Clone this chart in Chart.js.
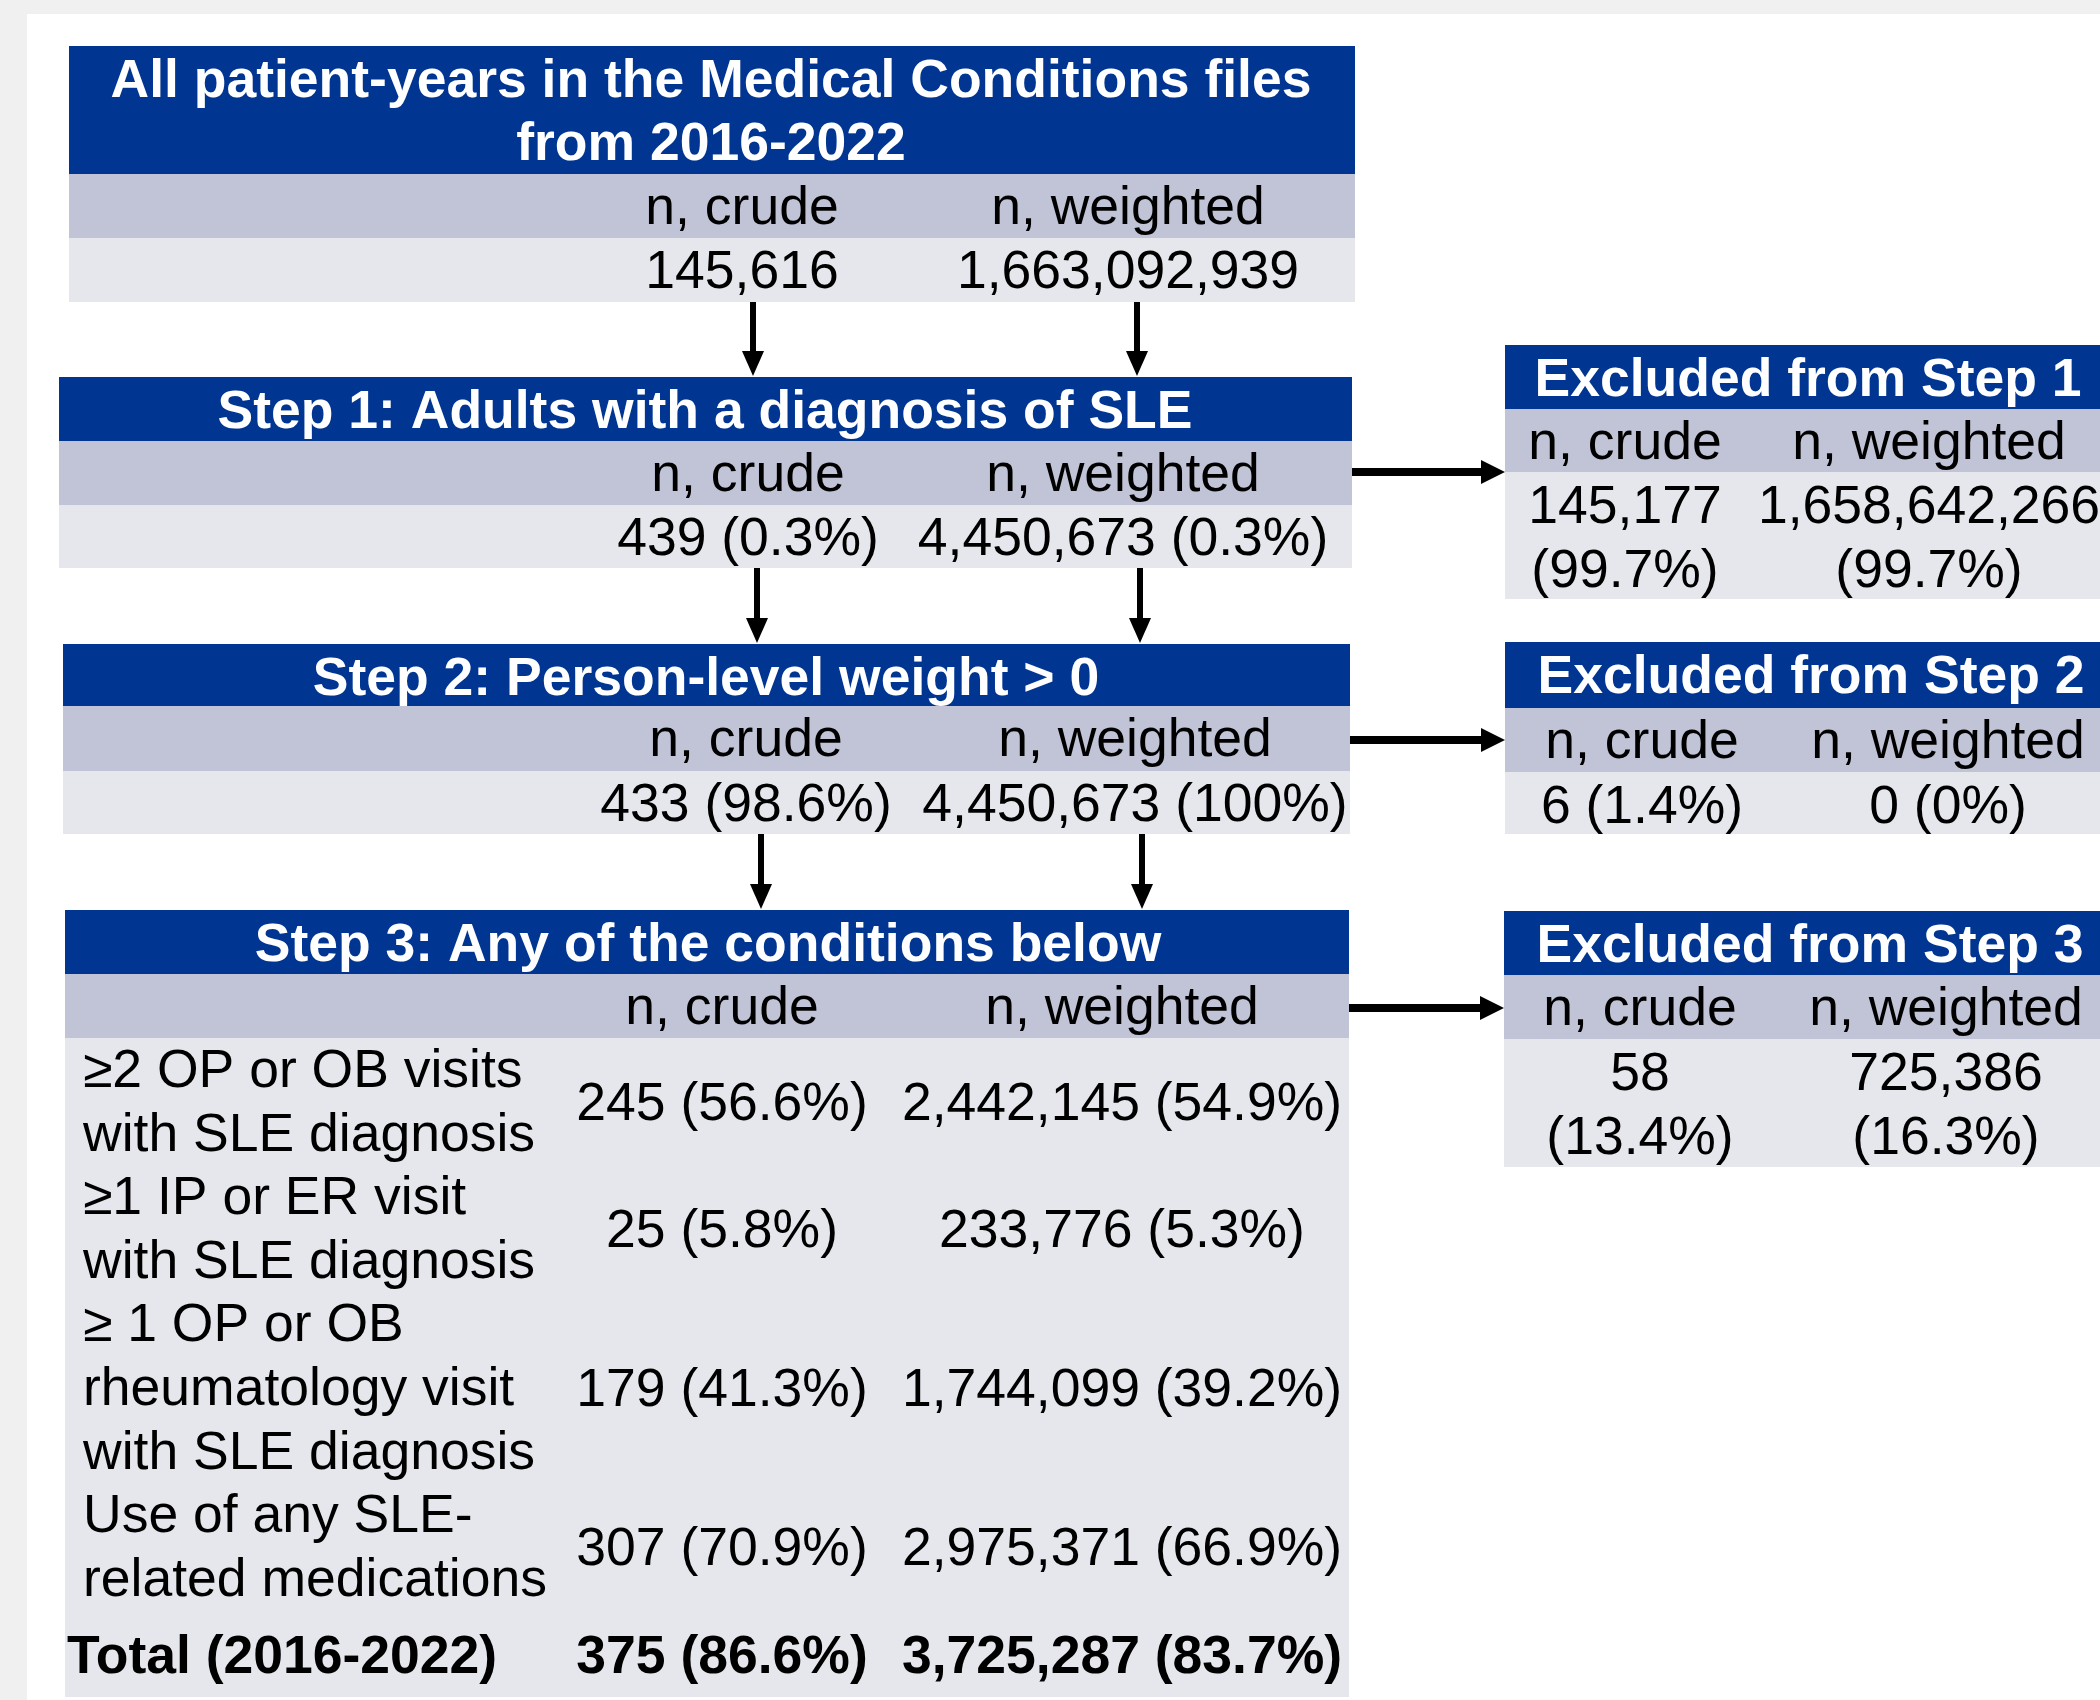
<!DOCTYPE html>
<html>
<head>
<meta charset="utf-8">
<title>SLE cohort flowchart</title>
<script src="https://cdn.jsdelivr.net/npm/chart.js@4.4.1/dist/chart.umd.min.js"></script>
<style>
  html, body { margin: 0; padding: 0; background: #f0f0f0; }
  #wrap { width: 2100px; height: 1700px; }
</style>
</head>
<body>
<div id="wrap"><canvas id="flow" width="2100" height="1700"></canvas></div>
<script>
// ---- data ----
const stepTitles = [
  ['All patient-years in the Medical Conditions files', 'from 2016-2022'],
  ['Step 1: Adults with a diagnosis of SLE'],
  ['Step 2: Person-level weight > 0'],
  ['Step 3: Any of the conditions below']
];
const colHeaders = ['n, crude', 'n, weighted'];
const stepCrude = ['145,616', '439 (0.3%)', '433 (98.6%)'];
const stepWeighted = ['1,663,092,939', '4,450,673 (0.3%)', '4,450,673 (100%)'];

const excludedTitles = ['Excluded from Step 1', 'Excluded from Step 2', 'Excluded from Step 3'];
const excludedCrude = [['145,177', '(99.7%)'], ['6 (1.4%)'], ['58', '(13.4%)']];
const excludedWeighted = [['1,658,642,266', '(99.7%)'], ['0 (0%)'], ['725,386', '(16.3%)']];

const conditionLabels = [
  ['≥2 OP or OB visits', 'with SLE diagnosis'],
  ['≥1 IP or ER visit', 'with SLE diagnosis'],
  ['≥ 1 OP or OB', 'rheumatology visit', 'with SLE diagnosis'],
  ['Use of any SLE-', 'related medications']
];
const conditionCrude = ['245 (56.6%)', '25 (5.8%)', '179 (41.3%)', '307 (70.9%)'];
const conditionWeighted = ['2,442,145 (54.9%)', '233,776 (5.3%)', '1,744,099 (39.2%)', '2,975,371 (66.9%)'];
const totalRow = ['Total (2016-2022)', '375 (86.6%)', '3,725,287 (83.7%)'];

// ---- layout (in scale units, 1 unit = 1px) ----
const BLUE = '#003592', HEAD = '#c1c4d6', LIGHT = '#e6e7ed';
const FONT = '"Liberation Sans", Arial, Helvetica, sans-serif';
const FS = 53.5;

// main boxes: left, right, blue top, header top, row top, row bottom, title x, col centers
const stepBoxes = [
  { l: 69, r: 1355, top: 46, hdr: 174, row: 238, bot: 302, tx: 711, cols: [742, 1128] },
  { l: 59, r: 1352, top: 377, hdr: 441, row: 505, bot: 568, tx: 705, cols: [748, 1123] },
  { l: 63, r: 1350, top: 644, hdr: 706, row: 771, bot: 834, tx: 706, cols: [746, 1135] },
  { l: 65, r: 1349, top: 910, hdr: 974, row: 1038, bot: 1697, tx: 708, cols: [722, 1122] }
];
const exclBoxes = [
  { l: 1505, r: 2110, top: 345, hdr: 409, row: 472, bot: 599, tx: 1808, cols: [1625, 1929], ay: 472 },
  { l: 1505, r: 2110, top: 642, hdr: 708, row: 772, bot: 834, tx: 1811, cols: [1642, 1948], ay: 740 },
  { l: 1504, r: 2110, top: 911, hdr: 975, row: 1039, bot: 1167, tx: 1810, cols: [1640, 1946], ay: 1008 }
];
const downArrows = [[753, 1137], [757, 1140], [761, 1142]];

const flowPlugin = {
  id: 'flow',
  beforeDraw(chart) {
    const ctx = chart.ctx;
    const sx = chart.scales.x, sy = chart.scales.y;
    const X = v => sx.getPixelForValue(v);
    const Y = v => sy.getPixelForValue(v);

    function rect(l, t, r, b, color) {
      ctx.fillStyle = color;
      ctx.fillRect(X(l), Y(t), X(r) - X(l), Y(b) - Y(t));
    }
    function text(str, x, y, align, bold, color) {
      ctx.font = (bold ? 'bold ' : '') + FS + 'px ' + FONT;
      ctx.fillStyle = color || '#000';
      ctx.textAlign = align;
      ctx.textBaseline = 'alphabetic';
      ctx.fillText(str, X(x), Y(y));
    }
    function box(b, title) {
      rect(b.l, b.top, b.r, b.hdr, BLUE);
      rect(b.l, b.hdr, b.r, b.row, HEAD);
      rect(b.l, b.row, b.r, b.bot, LIGHT);
      title.forEach((t, i) => text(t, b.tx, b.top + 51 + i * 63, 'center', true, '#fff'));
      text(colHeaders[0], b.cols[0], b.hdr + 50, 'center');
      text(colHeaders[1], b.cols[1], b.hdr + 50, 'center');
    }
    function arrow(x1, y1, x2, y2, w, head, half) {
      ctx.strokeStyle = '#000';
      ctx.fillStyle = '#000';
      ctx.lineWidth = w;
      const horiz = y1 === y2;
      ctx.beginPath();
      if (horiz) {
        ctx.moveTo(X(x1), Y(y1));
        ctx.lineTo(X(x2 - head + 1), Y(y2));
      } else {
        ctx.moveTo(X(x1), Y(y1));
        ctx.lineTo(X(x2), Y(y2 - head + 1));
      }
      ctx.stroke();
      ctx.beginPath();
      if (horiz) {
        ctx.moveTo(X(x2), Y(y2));
        ctx.lineTo(X(x2 - head), Y(y2 - half));
        ctx.lineTo(X(x2 - head), Y(y2 + half));
      } else {
        ctx.moveTo(X(x2), Y(y2));
        ctx.lineTo(X(x2 - half), Y(y2 - head));
        ctx.lineTo(X(x2 + half), Y(y2 - head));
      }
      ctx.closePath();
      ctx.fill();
    }

    // page background
    ctx.save();
    rect(0, 0, 2100, 1700, '#f0f0f0');
    rect(27, 14, 2100, 1700, '#ffffff');

    // main steps
    stepBoxes.forEach((b, i) => {
      box(b, stepTitles[i]);
      if (i < 3) {
        text(stepCrude[i], b.cols[0], b.row + 50, 'center');
        text(stepWeighted[i], b.cols[1], b.row + 50, 'center');
      }
    });

    // step 3 condition rows
    const b3 = stepBoxes[3];
    let line = 0;
    conditionLabels.forEach((lines, i) => {
      const first = 1087 + line * 63.6;
      lines.forEach((t, j) => text(t, 83, first + j * 63.6, 'left'));
      const mid = first + (lines.length - 1) * 63.6 / 2 + 1;
      text(conditionCrude[i], b3.cols[0], mid, 'center');
      text(conditionWeighted[i], b3.cols[1], mid, 'center');
      line += lines.length;
    });
    text(totalRow[0], 67, 1673, 'left', true);
    text(totalRow[1], b3.cols[0], 1673, 'center', true);
    text(totalRow[2], b3.cols[1], 1673, 'center', true);

    // excluded boxes
    exclBoxes.forEach((b, i) => {
      box(b, [excludedTitles[i]]);
      excludedCrude[i].forEach((t, j) => text(t, b.cols[0], b.row + 51 + j * 64, 'center'));
      excludedWeighted[i].forEach((t, j) => text(t, b.cols[1], b.row + 51 + j * 64, 'center'));
      arrow(stepBoxes[i + 1].r, b.ay, b.l, b.ay, 8, 24, 12);
    });

    // vertical arrows between steps
    downArrows.forEach((xs, i) => {
      xs.forEach(x => arrow(x, stepBoxes[i].bot, x, stepBoxes[i + 1].top - 1, 6, 25, 11));
    });
    ctx.restore();
  }
};

new Chart(document.getElementById('flow'), {
  type: 'scatter',
  data: { datasets: [] },
  options: {
    responsive: false,
    animation: false,
    devicePixelRatio: 1,
    layout: { padding: 0 },
    scales: {
      x: { type: 'linear', min: 0, max: 2100, display: false },
      y: { type: 'linear', min: 0, max: 1700, reverse: true, display: false }
    },
    plugins: { legend: { display: false }, tooltip: { enabled: false } }
  },
  plugins: [flowPlugin]
});
</script>
</body>
</html>
